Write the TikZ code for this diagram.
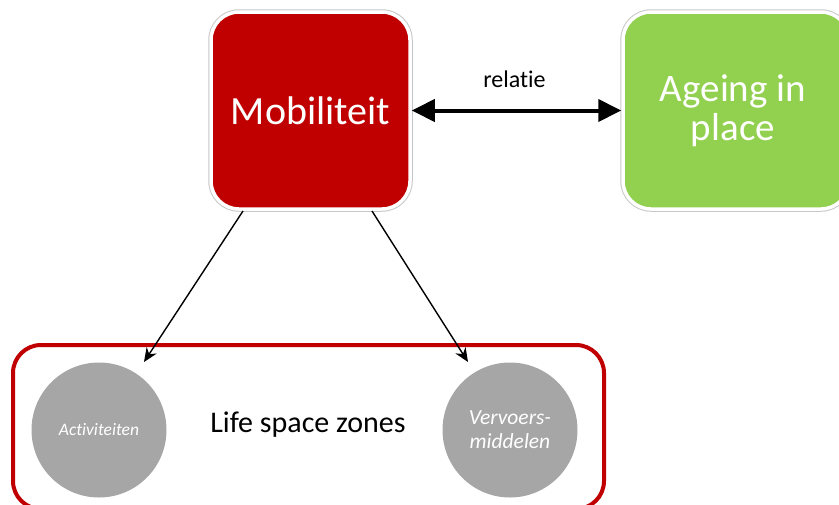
\documentclass[tikz,border=0pt]{standalone}
\usepackage{fontspec}
\setmainfont{Carlito}[Ligatures={NoCommon,NoContextual}]
\usetikzlibrary{arrows.meta}
\definecolor{mobred}{HTML}{C00000}
\definecolor{agegreen}{HTML}{92D050}
\definecolor{zonegray}{HTML}{A6A6A6}
\tikzset{
  bigbox/.style={rounded corners=28pt, minimum width=199pt, minimum height=197pt,
    draw=white, line width=3.5pt, preaction={draw=black!22, line width=5.5pt},
    text=white, font=\fontsize{40}{38}\selectfont, align=center, inner sep=0pt},
  zone/.style={circle, fill=zonegray, minimum size=135pt, inner sep=0pt,
    text=white, align=center},
  thinarrow/.style={-{Stealth[length=14pt,width=12pt]}, line width=1.4pt},
}
\begin{document}
\begin{tikzpicture}[x=1pt,y=-1pt]
\useasboundingbox (0,0) rectangle (839,504);
% main boxes
\node[bigbox, fill=mobred] (mob) at (310.5,110.5) {Mobiliteit};
\node[bigbox, fill=agegreen, minimum width=226pt, font=\fontsize{39}{39}\selectfont] (age) at (736,110.5)
  {\hspace*{-6pt}Ageing in\\\hspace*{-6pt}place};
% relation between the two boxes
\draw[{Triangle[length=23pt,width=22pt]}-{Triangle[length=23pt,width=22pt]}, line width=4pt]
  (mob.east) -- node[above=17pt, xshift=-2pt, font=\fontsize{24}{24}\selectfont, text=black] (rel) {relatie} (age.west);
% life space zones frame
\draw[mobred, line width=4pt, rounded corners=28pt] (13,345) rectangle (604,509);
\node[font=\fontsize{30}{30}\selectfont] (lsz) at (308,425) {Life space zones};
\node[zone, font=\itshape\fontsize{17.5}{17.5}\selectfont] (act) at (99,430) {Activiteiten};
\node[zone, font=\itshape\fontsize{21.5}{24}\selectfont] (verv) at (510,430) {Vervoers-\\middelen};
% arrows down to the zones
\coordinate (s1) at (243,211);
\coordinate (t1) at (144,362);
\coordinate (s2) at (372,211);
\coordinate (t2) at (468,362);
\draw[thinarrow] (s1) -- (t1);
\draw[thinarrow] (s2) -- (t2);
\end{tikzpicture}
\end{document}
